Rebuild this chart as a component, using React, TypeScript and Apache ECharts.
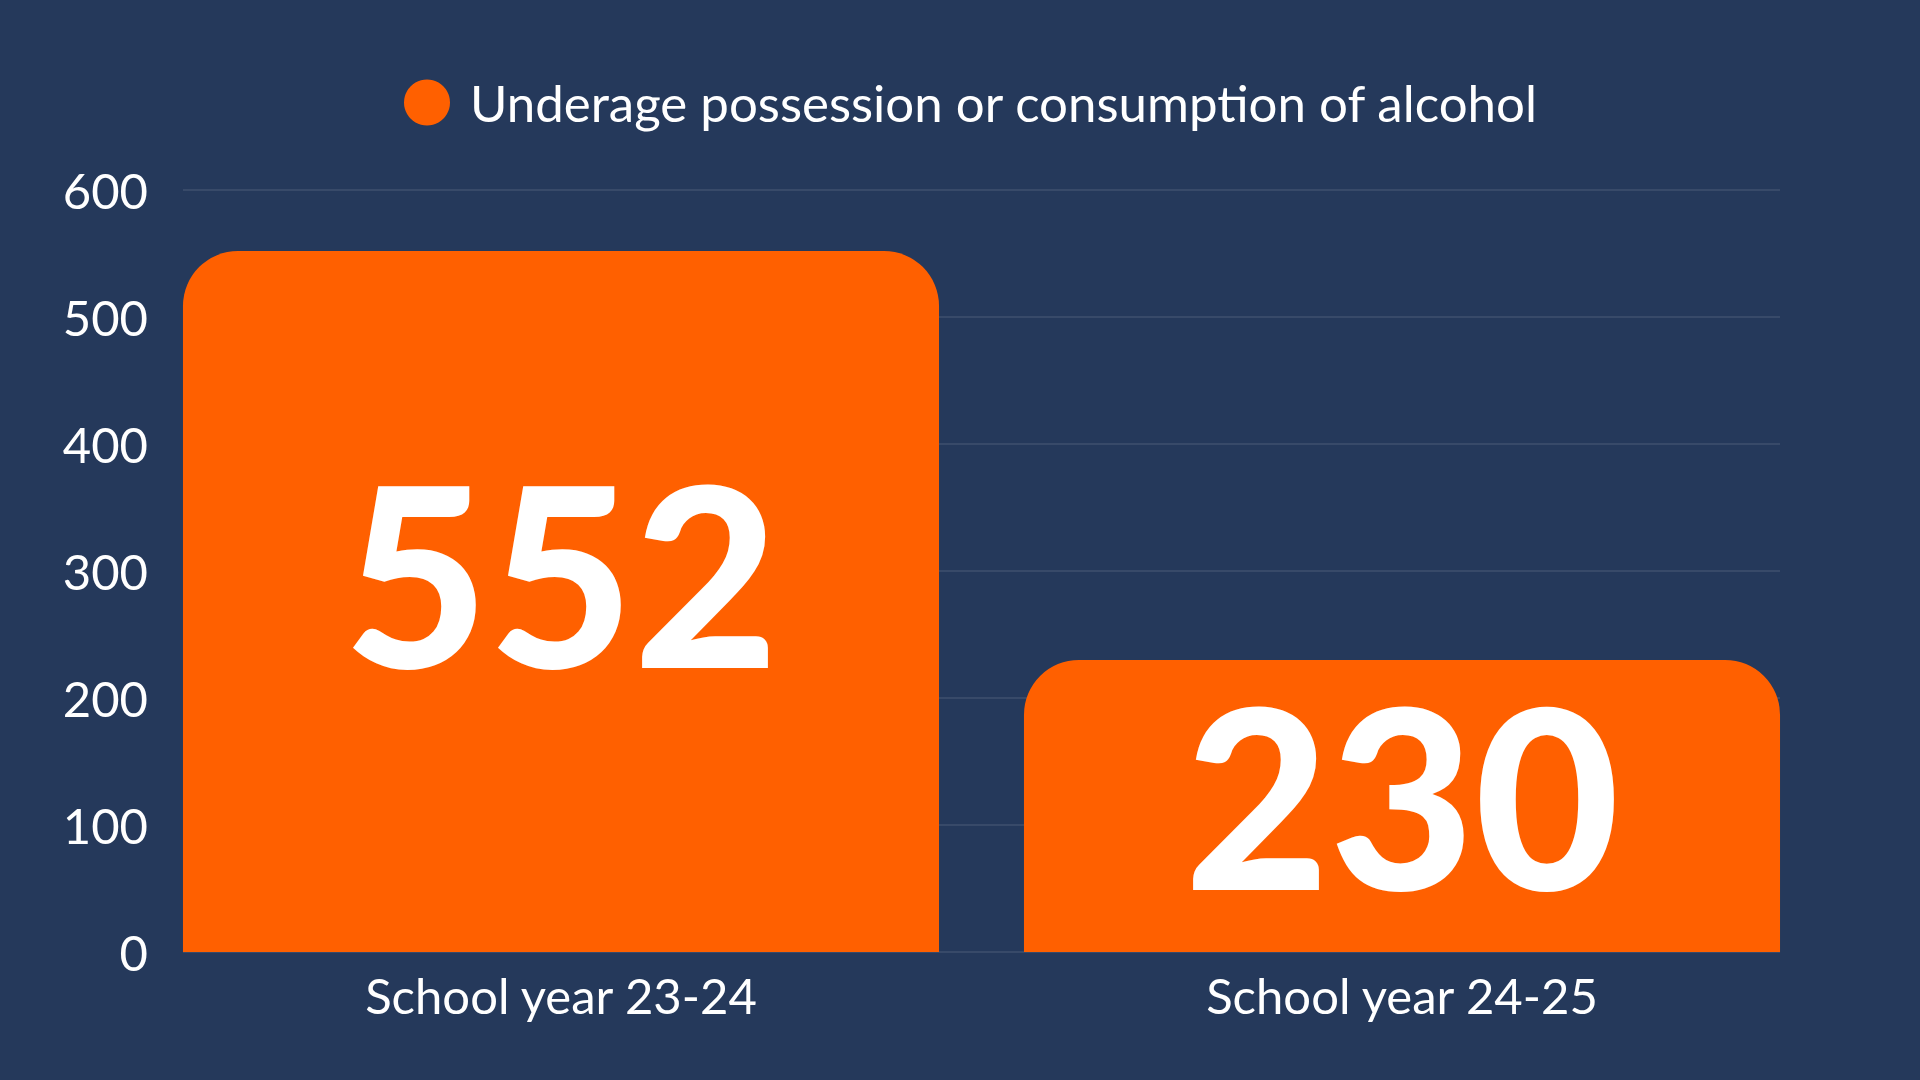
import React, { useEffect, useRef } from "react";
import * as echarts from "echarts";

const categories = ["School year 23-24", "School year 24-25"];
const seriesName = "Underage possession or consumption of alcohol";
const values = [552, 230];
const yTicks = [0, 100, 200, 300, 400, 500, 600];

export default function App() {
  const ref = useRef<HTMLDivElement>(null);
  useEffect(() => {
    document.body.style.margin = "0";
    const chart = echarts.init(ref.current!, null, { renderer: "svg" });
    const yMax = yTicks[yTicks.length - 1];
    const yInterval = yTicks[1] - yTicks[0];
    chart.setOption({
      animation: false,
      backgroundColor: "#25395b",
      legend: {
        data: [seriesName],
        left: 404,
        top: 77,
        padding: 0,
        icon: "circle",
        itemWidth: 76,
        itemHeight: 46,
        textStyle: { color: "#ffffff", fontSize: 51, fontFamily: "Lato", lineHeight: 51 },
      },
      grid: [
        { left: 140.5, right: 97.5, top: 190, bottom: 128 },
        { left: 183, right: 140, top: 190, bottom: 128 },
      ],
      xAxis: [
        {
          type: "category",
          gridIndex: 0,
          data: categories,
          axisLine: { show: false },
          axisTick: { show: false },
          axisLabel: {
            color: "#ffffff",
            fontSize: 49,
            fontFamily: "Lato",
            lineHeight: 49,
            margin: 18,
          },
        },
        { type: "value", gridIndex: 1, show: false, min: 0, max: 1 },
      ],
      yAxis: [
        { type: "value", gridIndex: 0, min: 0, max: yMax, interval: yInterval, show: false },
        {
          type: "value",
          gridIndex: 1,
          min: 0,
          max: yMax,
          interval: yInterval,
          axisLine: { show: false },
          axisTick: { show: false },
          axisLabel: { color: "#ffffff", fontSize: 49, fontFamily: "Lato", margin: 35 },
          splitLine: { lineStyle: { color: "rgba(255,255,255,0.12)", width: 1.5 } },
        },
      ],
      series: [
        {
          name: seriesName,
          type: "bar",
          xAxisIndex: 0,
          yAxisIndex: 0,
          data: values,
          barWidth: "89.9%",
          itemStyle: { color: "#ff6000", borderRadius: [55, 55, 0, 0] },
          label: {
            show: true,
            position: ["50%", "45.6%"],
            align: "center",
            verticalAlign: "middle",
            color: "#ffffff",
            fontSize: 250,
            fontWeight: 900,
            fontFamily: "Lato",
          },
        },
      ],
    });
    return () => chart.dispose();
  }, []);
  return (
    <div
      ref={ref}
      style={{ position: "absolute", left: 0, top: 0, width: 1920, height: 1080 }}
    />
  );
}
